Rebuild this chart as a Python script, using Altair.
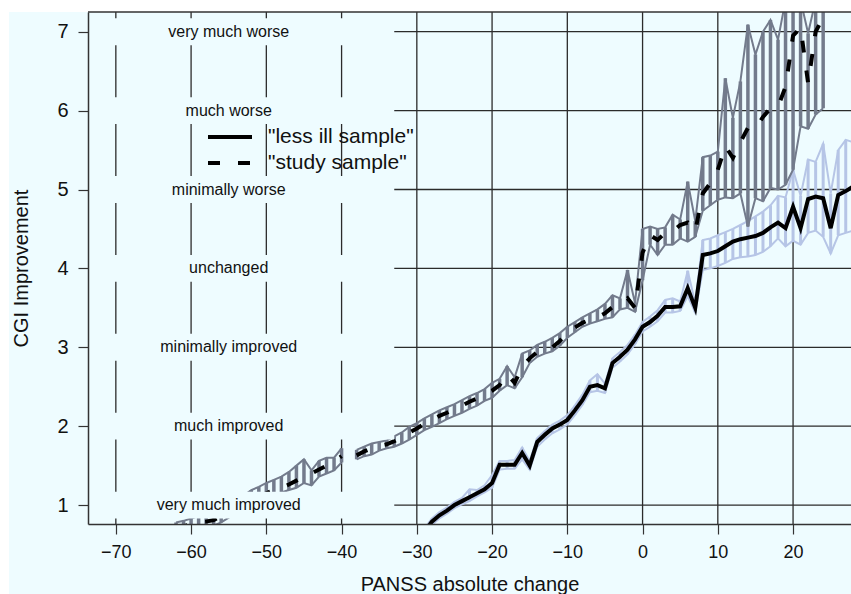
import altair as alt
import pandas as pd

BG = "#eefcff"
GRAY = "#737b8c"
LIGHT = "#b6c5e6"
INK = "#111111"
GRID = "#2b2b2b"
FONT = "Liberation Sans"

# ---------------- data ----------------
x_ticks = [-70, -60, -50, -40, -30, -20, -10, 0, 10, 20]
y_ticks = [1, 2, 3, 4, 5, 6, 7]
cgi_labels = ["very much improved", "much improved", "minimally improved", "unchanged",
              "minimally worse", "much worse", "very much worse"]
legend_labels = ['"less ill sample"', '"study sample"']

less_x = list(range(-29, 29))
less_mean = [0.66, 0.79, 0.87, 0.93, 1.00, 1.05, 1.10, 1.15, 1.20, 1.28,
             1.51, 1.51, 1.51, 1.66, 1.50, 1.80, 1.89, 1.97, 2.02, 2.08,
             2.20, 2.33, 2.50, 2.52, 2.48, 2.80, 2.88, 2.97, 3.10,
             3.26, 3.32, 3.40, 3.51, 3.51, 3.52, 3.75, 3.50, 4.17, 4.19,
             4.22, 4.28, 4.34, 4.37, 4.39, 4.41, 4.45, 4.52, 4.58, 4.51,
             4.78, 4.51, 4.88, 4.91, 4.89, 4.51, 4.93, 4.98, 5.04]
less_lo = [0.62, 0.75, 0.83, 0.89, 0.96, 1.01, 1.05, 1.11, 1.16, 1.22,
           1.45, 1.46, 1.46, 1.58, 1.45, 1.74, 1.83, 1.91, 1.96, 2.02,
           2.14, 2.27, 2.43, 2.45, 2.42, 2.74, 2.82, 2.91, 3.04,
           3.20, 3.26, 3.33, 3.44, 3.44, 3.46, 3.65, 3.44, 3.98, 4.00,
           4.03, 4.07, 4.12, 4.14, 4.15, 4.17, 4.21, 4.28, 4.38, 4.28,
           4.35, 4.30, 4.45, 4.48, 4.40, 4.19, 4.42, 4.45, 4.48]
less_hi = [0.70, 0.83, 0.91, 0.97, 1.04, 1.09, 1.20, 1.19, 1.25, 1.38,
           1.56, 1.56, 1.57, 1.73, 1.56, 1.85, 1.94, 2.02, 2.07, 2.14,
           2.26, 2.40, 2.58, 2.66, 2.54, 2.86, 2.94, 3.03, 3.16,
           3.32, 3.39, 3.47, 3.60, 3.62, 3.58, 3.97, 3.56, 4.36, 4.38,
           4.42, 4.46, 4.50, 4.55, 4.60, 4.66, 4.72, 4.80, 4.92, 4.90,
           5.25, 4.92, 5.38, 5.35, 5.58, 4.95, 5.50, 5.63, 5.60]

study_x = list(range(-62, 25))
study_mean = [0.70, 0.73, 0.76, 0.78, 0.79, 0.81, 0.86, 0.92, 0.98, 1.03,
              1.07, 1.11, 1.15, 1.19, 1.22, 1.26, 1.31, 1.36, 1.40, 1.45,
              1.50, 1.55, 1.62, None, 1.63, 1.68, 1.72, 1.75, 1.77, 1.81,
              1.86, 1.92, 1.97, 2.03, 2.08, 2.13, 2.17, 2.22, 2.26, 2.31,
              2.35, 2.40, 2.45, 2.52, 2.66, 2.55, 2.75, 2.86, 2.94, 2.98,
              3.00, 3.08, 3.19, 3.25, 3.31, 3.35, 3.38, 3.43, 3.51, 3.55,
              3.62, 3.50, 4.20, 4.42, 4.36, 4.45, 4.47, 4.55, 4.58, 4.47,
              4.95, 5.08, 5.25, 5.55, 5.40, 5.60, 5.78, 5.77, 5.92, 6.03,
              6.05, 6.30, 6.95, 7.05, 6.35, 7.00, 7.18]
study_lo = [0.62, 0.66, 0.70, 0.71, 0.72, 0.74, 0.78, 0.84, 0.90, 0.95,
            1.00, 1.04, 1.08, 1.12, 1.16, 1.19, 1.22, 1.28, 1.25, 1.36,
            1.40, 1.44, 1.54, None, 1.58, 1.62, 1.64, 1.69, 1.72, 1.74,
            1.78, 1.83, 1.89, 1.95, 1.99, 2.04, 2.09, 2.13, 2.17, 2.22,
            2.26, 2.32, 2.36, 2.45, 2.52, 2.48, 2.62, 2.80, 2.88, 2.92,
            2.95, 3.02, 3.12, 3.19, 3.26, 3.30, 3.33, 3.36, 3.38, 3.48,
            3.50, 3.45, 3.85, 4.30, 4.17, 4.30, 4.30, 4.38, 4.34, 4.40,
            4.73, 4.80, 4.87, 4.90, 4.89, 4.95, 4.53, 4.89, 4.85, 5.02,
            5.00, 5.06, 5.25, 5.80, 5.77, 5.95, 6.03]
study_hi = [0.78, 0.80, 0.83, 0.86, 0.88, 0.90, 0.94, 1.00, 1.06, 1.12,
            1.19, 1.23, 1.28, 1.32, 1.36, 1.42, 1.50, 1.58, 1.44, 1.56,
            1.60, 1.60, 1.72, None, 1.70, 1.74, 1.78, 1.80, 1.82, 1.87,
            1.92, 1.99, 2.04, 2.10, 2.15, 2.20, 2.24, 2.28, 2.33, 2.38,
            2.42, 2.47, 2.55, 2.60, 2.76, 2.62, 2.92, 2.96, 3.03, 3.07,
            3.12, 3.18, 3.26, 3.32, 3.38, 3.43, 3.48, 3.55, 3.66, 3.62,
            3.98, 3.56, 4.50, 4.53, 4.50, 4.52, 4.68, 4.62, 5.10, 4.60,
            5.41, 5.43, 5.48, 6.41, 5.91, 6.37, 7.09, 6.71, 7.00, 7.15,
            6.90, 7.40, 7.50, 7.40, 6.98, 7.40, 7.50]

# ---------------- layout constants ----------------
X_DOMAIN = [-73.7, 27.7]
Y_DOMAIN = [0.76, 7.25]
LABEL_X = -55
MASK_RIGHT = -33
MASK_HALF = 0.17
W, H = 763, 512
DASH = [12, 18]
LEG_X0, LEG_X1, LEG_TX = 120, 164, 180
LEG_Y = [125, 151]

# ---------------- tables ----------------
less_df = pd.DataFrame({"x": less_x, "y": less_mean, "lo": less_lo, "hi": less_hi})
less_df["seg"] = 0
less_df["series"] = legend_labels[0]

study_df = pd.DataFrame({"x": study_x, "y": study_mean, "lo": study_lo, "hi": study_hi})
study_df["seg"] = study_df["y"].isna().cumsum()
study_df = study_df.dropna().reset_index(drop=True)
study_df["series"] = legend_labels[1]

mask_df = pd.DataFrame({"level": y_ticks})
mask_df["y1"] = mask_df["level"] - MASK_HALF
mask_df["y2"] = mask_df["level"] + MASK_HALF
mask_df["x1"] = X_DOMAIN[0]
mask_df["x2"] = MASK_RIGHT

label_df = pd.DataFrame({"level": y_ticks, "text": cgi_labels})
label_df["x"] = LABEL_X

one = pd.DataFrame({"a": [0]})

xs = alt.Scale(domain=X_DOMAIN, nice=False, zero=False)
ys = alt.Scale(domain=Y_DOMAIN, nice=False, zero=False)

xaxis = alt.Axis(values=x_ticks, grid=False, title="PANSS absolute change",
                 titleFontSize=20, titleFontWeight="normal", titleColor=INK,
                 titleY=66, titleBaseline="alphabetic",
                 labelFontSize=18, labelColor=INK, labelFlush=False, labelOverlap=False,
                 tickSize=10, labelPadding=9, tickColor="#333", tickWidth=1.2,
                 domainColor="#333", domainWidth=1.5, zindex=1)
yaxis = alt.Axis(values=y_ticks, grid=False, title="CGI Improvement",
                 titleFontSize=20, titleFontWeight="normal", titleColor=INK,
                 titleX=-61, titleY=H / 2, titleAngle=-90, titleBaseline="alphabetic",
                 labelFontSize=20, labelColor=INK, labelFlush=False, labelOverlap=False,
                 tickSize=10, labelPadding=10, tickColor="#333", tickWidth=1.2,
                 domainColor="#333", domainWidth=1.5, zindex=1)


def X(f):
    return alt.X(f, type="quantitative", scale=xs, axis=xaxis)


def Y(f):
    return alt.Y(f, type="quantitative", scale=ys, axis=yaxis)


bg = alt.Chart(one).mark_rect(color=BG).encode(
    x=alt.value(-79), x2=alt.value(W), y=alt.value(0), y2=alt.value(582))

vgrid = alt.Chart(pd.DataFrame({"x": x_ticks})).mark_rule(color=GRID, strokeWidth=1.3).encode(x=X("x"))
hgrid = alt.Chart(pd.DataFrame({"y": y_ticks})).mark_rule(color=GRID, strokeWidth=1.3).encode(y=Y("y"))

less_bars = alt.Chart(less_df).mark_rule(color=LIGHT, strokeWidth=3, clip=True).encode(
    x=X("x"), y=Y("lo"), y2="hi")
less_lo_line = alt.Chart(less_df).mark_line(color=LIGHT, strokeWidth=2, clip=True).encode(
    x=X("x"), y=Y("lo"))
less_hi_line = alt.Chart(less_df).mark_line(color=LIGHT, strokeWidth=2, clip=True).encode(
    x=X("x"), y=Y("hi"))

study_bars = alt.Chart(study_df).mark_rule(color=GRAY, strokeWidth=3.5, clip=True).encode(
    x=X("x"), y=Y("lo"), y2="hi")
study_lo_line = alt.Chart(study_df).mark_line(color=GRAY, strokeWidth=2, clip=True).encode(
    x=X("x"), y=Y("lo"), detail="seg:N")
study_hi_line = alt.Chart(study_df).mark_line(color=GRAY, strokeWidth=2, clip=True).encode(
    x=X("x"), y=Y("hi"), detail="seg:N")

less_line = alt.Chart(less_df).mark_line(color="black", strokeWidth=4, clip=True).encode(
    x=X("x"), y=Y("y"))
study_line = alt.Chart(study_df).mark_line(color="black", strokeWidth=4, strokeDash=DASH,
                                           clip=True).encode(
    x=X("x"), y=Y("y"), detail="seg:N")

masks = alt.Chart(mask_df).mark_rect(color=BG, clip=True).encode(
    x=X("x1"), x2="x2", y=Y("y1"), y2="y2")

labels = alt.Chart(label_df).mark_text(fontSize=16, font=FONT, color=INK).encode(
    x=X("x"), y=Y("level"), text="text:N")

# legend (drawn as guide marks)
leg_solid = alt.Chart(one).mark_rule(color="black", strokeWidth=4).encode(
    x=alt.value(LEG_X0), x2=alt.value(LEG_X1), y=alt.value(LEG_Y[0]))
leg_dash = alt.Chart(one).mark_rule(color="black", strokeWidth=4, strokeDash=DASH).encode(
    x=alt.value(LEG_X0), x2=alt.value(LEG_X1), y=alt.value(LEG_Y[1]))
leg_t1 = alt.Chart(one).mark_text(fontSize=21, font=FONT, color=INK, align="left",
                                  baseline="middle").encode(
    x=alt.value(LEG_TX), y=alt.value(LEG_Y[0]), text=alt.value(legend_labels[0]))
leg_t2 = alt.Chart(one).mark_text(fontSize=21, font=FONT, color=INK, align="left",
                                  baseline="middle").encode(
    x=alt.value(LEG_TX), y=alt.value(LEG_Y[1]), text=alt.value(legend_labels[1]))

top_border = alt.Chart(one).mark_rule(color="#333", strokeWidth=1.5).encode(
    x=alt.value(0), x2=alt.value(W), y=alt.value(0))

chart = alt.layer(
    bg, vgrid, hgrid, less_bars, less_lo_line, less_hi_line,
    study_bars, study_lo_line, study_hi_line, less_line, study_line, masks, labels,
    leg_solid, leg_dash, leg_t1, leg_t2, top_border
).properties(
    width=W, height=H,
    padding={"left": 88, "top": 12, "right": 0, "bottom": 70},
    autosize=alt.AutoSizeParams(type="none"),
).configure(
    background="white", font=FONT
).configure_view(stroke=None)

chart.save("out.html", embed_options={"renderer": "svg", "actions": False})
